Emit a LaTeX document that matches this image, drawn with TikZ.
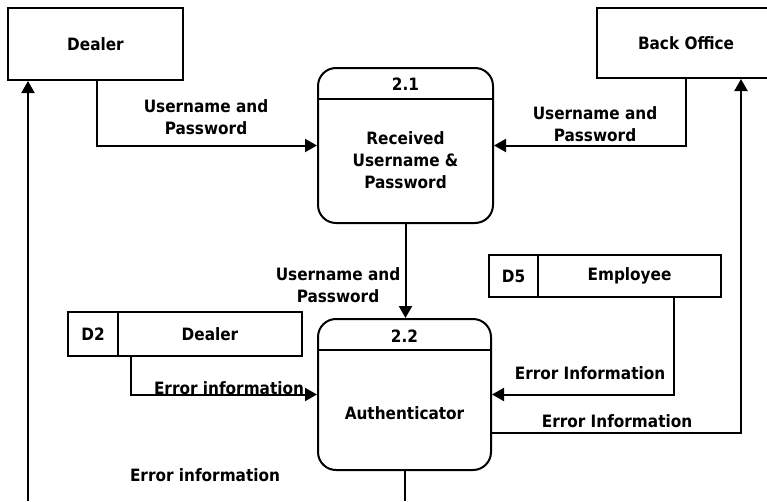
\documentclass[tikz,border=0pt]{standalone}
\usepackage{fontspec}
\newfontfamily\dfdfont{DejaVu Sans Condensed}
\usetikzlibrary{arrows.meta,calc}

\tikzset{
  line/.style={line width=2pt},
  txt/.style={font=\dfdfont\bfseries\fontsize{17}{22}\selectfont},
  entity/.style={draw, line, inner sep=0pt, txt},
  proc/.style={draw, line, rounded corners=18pt, inner sep=0pt},
  storebox/.style={draw, line, inner sep=0pt, txt},
  flow/.style={line, -{Triangle[length=12pt,width=13pt]}},
  lbl/.style={align=center, inner sep=0pt, txt},
}

\begin{document}
\begin{tikzpicture}[x=1pt, y=-1pt]
  \useasboundingbox (0,0) rectangle (767,501);
  \clip (0,0) rectangle (767,501);

  % external entities
  \node[entity, minimum width=175pt, minimum height=72pt] (dealer) at (95.5,44) {Dealer};
  \node[entity, minimum width=178pt, minimum height=70pt] (bo) at (686,43) {Back Office};

  % process 2.1
  \node[proc, minimum width=175pt, minimum height=155pt] (p21) at (405.5,145.5) {};
  \draw[line] (p21.west |- 0,99) -- (p21.east |- 0,99);
  \node[lbl] (p21num) at (405.5,84) {2.1};
  \node[lbl] (p21txt) at (405.5,160) {Received\\Username \&\\Password};

  % process 2.2
  \node[proc, minimum width=173pt, minimum height=151pt] (p22) at (404.5,394.5) {};
  \draw[line] (p22.west |- 0,350) -- (p22.east |- 0,350);
  \node[lbl] (p22num) at (404.5,336) {2.2};
  \node[lbl] (p22txt) at (404.5,413) {Authenticator};

  % data stores
  \node[storebox, minimum width=50pt, minimum height=44pt] (d2id) at (93,334) {D2};
  \node[storebox, minimum width=184pt, minimum height=44pt] (d2name) at (210,334) {Dealer};
  \node[storebox, minimum width=49pt, minimum height=42pt] (d5id) at (513.5,276) {D5};
  \node[storebox, minimum width=183pt, minimum height=42pt] (d5name) at (629.5,276) {Employee};

  % open ends at the lower edge
  \coordinate (dealerin) at (28,501);
  \coordinate (p22out) at (404.5,501);

  % data flows
  \draw[flow] ($(dealer.south)+(1.5,0)$) |- (p21.west);
  \node[lbl] (f1) at (206,117) {Username and\\Password};

  \draw[flow] (bo.south) |- (p21.east);
  \node[lbl] (f2) at (595,124) {Username and\\Password};

  \draw[flow] (p21.south) -- (p21.south |- p22.north);
  \node[lbl] (f3) at (338,285) {Username and\\Password};

  \draw[flow] ($(d2name.south west)+(14,0)$) |- (p22.west);
  \node[lbl] (f4) at (229,388) {Error information};

  \draw[flow] ($(d5name.south east)+(-48,0)$) |- (p22.east);
  \node[lbl] (f5) at (590,373) {Error Information};

  \draw[flow] ($(p22.east)+(0,38.5)$) -| ($(bo.south)+(55,0)$);
  \node[lbl] (f6) at (617,421) {Error Information};

  \draw[flow] (dealerin) -- (dealerin |- dealer.south);
  \draw[line] (p22.south) -- (p22out);
  \node[lbl] (f7) at (205,475) {Error information};
\end{tikzpicture}
\end{document}
